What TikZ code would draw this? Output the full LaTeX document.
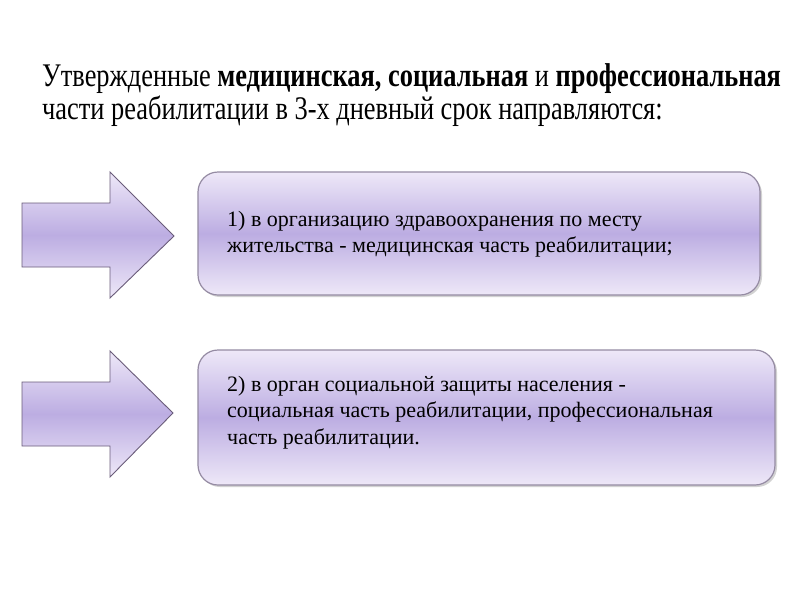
\documentclass[tikz,border=0pt]{standalone}
\usepackage{fontspec}
\setmainfont{Liberation Serif}
\newfontfamily\condfont[FakeStretch=0.8]{Liberation Serif}
\usetikzlibrary{shadows}
\definecolor{lavlight}{HTML}{EEE8F8}
\definecolor{lavmid}{HTML}{BCADE2}
\definecolor{arrowedge}{HTML}{6A5C7A}
\definecolor{boxedge}{HTML}{958BA3}
\tikzset{
  arrowshape/.style={draw=arrowedge, line width=0.9pt, top color=lavlight, bottom color=lavlight, middle color=lavmid, line join=miter},
  panel/.style={draw=boxedge, line width=1.2pt, rounded corners=20pt, top color=lavlight, bottom color=lavlight, middle color=lavmid,
    drop shadow={shadow xshift=2pt, shadow yshift=-2pt, opacity=0.35, fill=gray}},
  paneltext/.style={anchor=north west, align=left, font=\fontsize{22}{26.3}\selectfont, text=black, inner sep=0pt},
}
\begin{document}
\begin{tikzpicture}[x=1pt,y=-1pt]
\useasboundingbox (0,0) rectangle (800,600);
\fill[white] (0,0) rectangle (800,600);
% title
\node[anchor=north west, align=left, inner sep=0pt, font=\condfont\fontsize{33}{33}\selectfont] (title) at (42,63)
  {Утвержденные \textbf{медицинская, социальная} и \textbf{профессиональная}\\части реабилитации в 3-х дневный срок направляются:};
% arrows
\path[arrowshape] (22,203) -- (110,203) -- (110,172) -- (174,236) -- (110,298) -- (110,267) -- (22,267) -- cycle;
\path[arrowshape] (22,382) -- (110,382) -- (110,351) -- (173,413) -- (110,477) -- (110,446) -- (22,446) -- cycle;
% panels
\path[panel] (198,172) rectangle (760,295);
\path[panel] (198,350) rectangle (775,485);
\node[paneltext] (t1) at (227,211) {1) в организацию здравоохранения по месту\\жительства - медицинская часть реабилитации;};
\node[paneltext] (t2) at (227,376) {2) в орган социальной защиты населения -\\социальная часть реабилитации, профессиональная\\часть реабилитации.};
\end{tikzpicture}
\end{document}
